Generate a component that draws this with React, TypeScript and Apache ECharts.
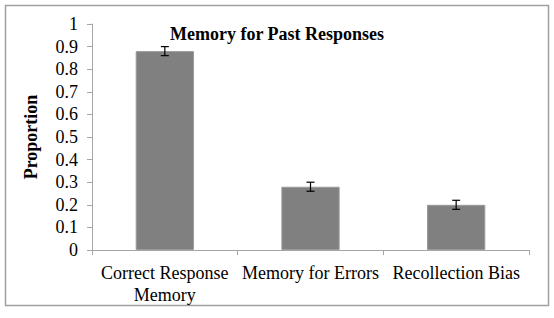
import React, { useEffect, useRef } from "react";
import * as echarts from "echarts";

const categories = ["Correct Response\nMemory", "Memory for Errors", "Recollection Bias"];
const values = [0.88, 0.28, 0.2];
const errors = [0.02, 0.02, 0.02];
const yTicks = { min: 0, max: 1, interval: 0.1 };

const FONT = "Liberation Serif, Times New Roman, serif";

export default function App() {
  const ref = useRef<HTMLDivElement>(null);
  useEffect(() => {
    if (!ref.current) return;
    const chart = echarts.init(ref.current, null, { renderer: "svg" });
    const labelStyle = { fontFamily: FONT, fontSize: 18, color: "#000", fontWeight: "normal" };
    chart.setOption({
      animation: false,
      backgroundColor: "#ffffff",
      textStyle: { fontFamily: FONT },
      title: {
        text: "Memory for Past Responses",
        left: "center",
        top: 20,
        textStyle: { fontFamily: FONT, fontSize: 18, fontWeight: "bold", color: "#000" },
      },
      graphic: [
        {
          type: "rect",
          shape: { x: 5.5, y: 5.5, width: 543, height: 300 },
          style: { fill: "none", stroke: "#a0a0a0", lineWidth: 1.5 },
          silent: true,
        },
      ],
      grid: { left: 92, right: 25, top: 24, bottom: 68 },
      xAxis: {
        type: "category",
        data: categories,
        axisLine: { lineStyle: { color: "#a6a6a6", width: 1 } },
        axisTick: { show: true, length: 5, lineStyle: { color: "#a6a6a6" } },
        axisLabel: {
          ...labelStyle,
          margin: 12,
          lineHeight: 22,
          interval: 0,
          formatter: (v: string) =>
            v
              .split("\n")
              .map((s) => "{s|" + s + "}")
              .join("\n"),
          rich: { s: { ...labelStyle, lineHeight: 22 } },
        },
      },
      yAxis: {
        type: "value",
        min: yTicks.min,
        max: yTicks.max,
        interval: yTicks.interval,
        name: "Proportion",
        nameLocation: "middle",
        nameRotate: 90,
        nameGap: 52,
        nameTextStyle: { fontFamily: FONT, fontSize: 18, fontWeight: "bold", color: "#000" },
        axisLine: { show: true, lineStyle: { color: "#a6a6a6", width: 1 } },
        axisTick: { show: true, length: 5, lineStyle: { color: "#a6a6a6" } },
        splitLine: { show: false },
        axisLabel: {
          ...labelStyle,
          margin: 14,
          formatter: (v: number) => {
            const r = Math.round(v * 10) / 10;
            const t = r === 0 || r === 1 ? String(r) : r.toFixed(1);
            return "{s|" + t + "}";
          },
          rich: { s: { ...labelStyle } },
        },
      },
      series: [
        {
          type: "bar",
          data: values,
          barWidth: "40%",
          itemStyle: { color: "#808080", borderColor: "#9a9a9a", borderWidth: 1 },
        },
        {
          type: "custom",
          data: values.map((v, i) => [i, v, errors[i]]),
          z: 10,
          renderItem: (params: any, api: any) => {
            const i = api.value(0);
            const v = api.value(1);
            const e = api.value(2);
            const top = api.coord([i, v + e]);
            const bot = api.coord([i, v - e]);
            const hw = 4;
            const style = { stroke: "#000", lineWidth: 1.2 };
            return {
              type: "group",
              children: [
                { type: "line", shape: { x1: top[0], y1: top[1], x2: bot[0], y2: bot[1] }, style },
                { type: "line", shape: { x1: top[0] - hw, y1: top[1], x2: top[0] + hw, y2: top[1] }, style },
                { type: "line", shape: { x1: bot[0] - hw, y1: bot[1], x2: bot[0] + hw, y2: bot[1] }, style },
              ],
            };
          },
        },
      ],
    });
    return () => chart.dispose();
  }, []);
  return (
    <div
      ref={ref}
      style={{ position: "fixed", left: 0, top: 0, width: 554, height: 318 }}
    />
  );
}
